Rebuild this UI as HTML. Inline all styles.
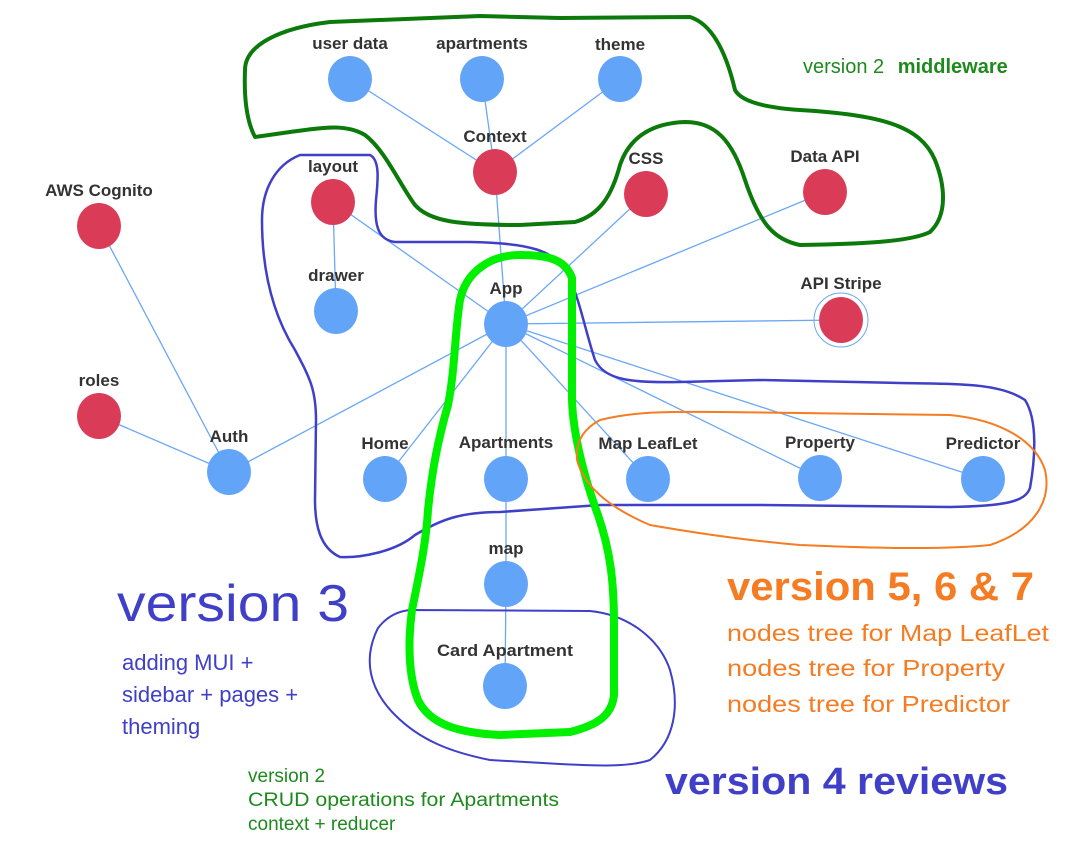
<!DOCTYPE html>
<html><head><meta charset="utf-8"><style>
html,body{margin:0;padding:0;background:#fff;}
svg{display:block;}
text{font-family:"Liberation Sans",sans-serif;}
.lbl{font-weight:bold;font-size:17px;fill:#333;text-anchor:middle;}
.e{stroke:#6aa8f5;stroke-width:1.3;}
</style></head><body>
<svg width="1067" height="868" viewBox="0 0 1067 868" xmlns="http://www.w3.org/2000/svg">
<g class="e">
<line x1="350" y1="79" x2="495" y2="172"/>
<line x1="482" y1="79" x2="495" y2="172"/>
<line x1="620" y1="79" x2="495" y2="172"/>
<line x1="495" y1="172" x2="506" y2="324"/>
<line x1="333" y1="202" x2="336" y2="311"/>
<line x1="333" y1="202" x2="506" y2="324"/>
<line x1="646" y1="194" x2="506" y2="324"/>
<line x1="825" y1="192" x2="506" y2="324"/>
<line x1="841" y1="320" x2="506" y2="324"/>
<line x1="99" y1="226" x2="229" y2="472"/>
<line x1="99" y1="416" x2="229" y2="472"/>
<line x1="229" y1="472" x2="506" y2="324"/>
<line x1="385" y1="479" x2="506" y2="324"/>
<line x1="506" y1="479" x2="506" y2="324"/>
<line x1="648" y1="479" x2="506" y2="324"/>
<line x1="820" y1="478" x2="506" y2="324"/>
<line x1="983" y1="479" x2="506" y2="324"/>
<line x1="506" y1="479" x2="506" y2="584"/>
<line x1="506" y1="584" x2="505" y2="686"/>
</g>
<circle cx="841" cy="320" r="27" fill="none" stroke="#6aa8f5" stroke-width="1"/>
<g fill="#62a4f7">
<ellipse cx="350" cy="79" rx="22" ry="23"/><ellipse cx="482" cy="79" rx="22" ry="23"/><ellipse cx="620" cy="79" rx="22" ry="23"/>
<ellipse cx="336" cy="311" rx="22" ry="23"/><ellipse cx="506" cy="324" rx="22" ry="23"/><ellipse cx="229" cy="472" rx="22" ry="23"/>
<ellipse cx="385" cy="479" rx="22" ry="23"/><ellipse cx="506" cy="479" rx="22" ry="23"/><ellipse cx="648" cy="479" rx="22" ry="23"/>
<ellipse cx="820" cy="478" rx="22" ry="23"/><ellipse cx="983" cy="479" rx="22" ry="23"/><ellipse cx="506" cy="584" rx="22" ry="23"/>
<ellipse cx="505" cy="686" rx="22" ry="23"/>
</g>
<g fill="#da3c58">
<ellipse cx="495" cy="172" rx="22" ry="23"/><ellipse cx="333" cy="202" rx="22" ry="23"/><ellipse cx="646" cy="194" rx="22" ry="23"/>
<ellipse cx="825" cy="192" rx="22" ry="23"/><ellipse cx="99" cy="226" rx="22" ry="23"/><ellipse cx="841" cy="320" rx="22" ry="23"/>
<ellipse cx="99" cy="416" rx="22" ry="23"/>
</g>
<g>
<text x="350" y="49" class="lbl">user data</text>
<text x="482" y="49" class="lbl">apartments</text>
<text x="620" y="50" class="lbl">theme</text>
<text x="495" y="142" class="lbl">Context</text>
<text x="333" y="172" class="lbl">layout</text>
<text x="646" y="164" class="lbl">CSS</text>
<text x="825" y="162" class="lbl">Data API</text>
<text x="99" y="196" class="lbl">AWS Cognito</text>
<text x="336" y="281" class="lbl">drawer</text>
<text x="506" y="294" class="lbl">App</text>
<text x="841" y="289" class="lbl">API Stripe</text>
<text x="99" y="386" class="lbl">roles</text>
<text x="229" y="442" class="lbl">Auth</text>
<text x="385" y="449" class="lbl">Home</text>
<text x="506" y="448" class="lbl">Apartments</text>
<text x="648" y="449" class="lbl">Map LeafLet</text>
<text x="820" y="448" class="lbl">Property</text>
<text x="983" y="449" class="lbl">Predictor</text>
<text x="506" y="554" class="lbl">map</text>
<text x="505" y="656" class="lbl" textLength="136" lengthAdjust="spacingAndGlyphs">Card Apartment</text>
</g>
<g fill="none" stroke-linejoin="round" stroke-linecap="round">
<path stroke="#0b7a0b" stroke-width="4" d="M245,70 C245,45 280,28 330,22 L480,16 L560,18 L690,17 C715,25 728,60 735,90 C742,103 770,108 800,110 C880,115 920,125 935,160 C945,185 948,215 930,232 C910,242 860,244 800,245 C775,240 760,225 745,180 C732,140 715,122 685,122 C655,123 630,135 620,165 C612,195 600,215 575,222 L520,225 C460,225 430,222 415,205 C400,185 385,150 365,135 C345,123 320,128 290,132 L255,137 C246,120 244,95 245,70 Z"/>
<path stroke="#3f3fc8" stroke-width="2.5" d="M300,155 L370,155 C380,160 378,180 376,200 C374,225 378,240 395,242 L470,242 C530,243 555,250 568,275 C580,300 585,330 595,360 C605,380 630,383 680,382 L760,380 L900,383 C960,384 1000,383 1025,400 C1038,420 1035,460 1030,488 C1025,502 1005,506 950,507 L760,505 L600,505 L500,512 C460,512 440,520 415,535 C395,552 360,558 340,557 C320,548 315,525 315,500 L316,420 C316,390 310,378 295,350 C270,310 262,265 262,220 C262,190 275,165 300,155 Z"/>
<path stroke="#3f3fc8" stroke-width="2" d="M410,610 L590,611 C630,615 660,640 670,670 C680,705 675,740 650,760 C630,767 600,766 560,764 L490,760 C450,752 420,740 395,715 C370,690 362,660 378,628 C388,615 400,611 410,610 Z"/>
<path stroke="#00f000" stroke-width="8" d="M520,255 C545,255 565,258 572,278 L572,400 C573,435 585,480 598,515 C610,550 614,580 614,625 L614,695 C612,715 598,725 570,732 L500,735 C460,733 430,725 418,700 C408,675 408,640 412,610 C418,580 426,545 428,510 C432,470 438,440 448,405 C455,370 455,330 460,300 C466,272 490,255 520,255 Z"/>
<path stroke="#f57c22" stroke-width="2" d="M600,420 C640,410 680,412 720,412 L950,415 C1000,420 1035,440 1045,470 C1052,500 1035,530 990,545 C940,550 870,548 800,545 C740,540 690,532 650,525 C615,510 585,490 577,460 C575,440 585,428 600,420 Z"/>
</g>
<text x="803" y="73" font-size="20" fill="#1e8a1e">version 2 <tspan font-weight="bold" dx="8">middleware</tspan></text>
<text x="117" y="621" font-size="52" fill="#3f3fc8" textLength="232" lengthAdjust="spacingAndGlyphs">version 3</text>
<g font-size="22" fill="#3f3fc8">
<text x="122" y="670">adding MUI +</text>
<text x="122" y="702">sidebar + pages +</text>
<text x="122" y="734">theming</text>
</g>
<text x="727" y="600" font-size="40" font-weight="bold" fill="#f57c22" textLength="307" lengthAdjust="spacingAndGlyphs">version 5, 6 &amp; 7</text>
<g font-size="23" fill="#f57c22">
<text x="727" y="641" textLength="322" lengthAdjust="spacingAndGlyphs">nodes tree for Map LeafLet</text>
<text x="727" y="676" textLength="278" lengthAdjust="spacingAndGlyphs">nodes tree for Property</text>
<text x="727" y="712" textLength="283" lengthAdjust="spacingAndGlyphs">nodes tree for Predictor</text>
</g>
<text x="665" y="794" font-size="38" font-weight="bold" fill="#3f3fc8" textLength="343" lengthAdjust="spacingAndGlyphs">version 4 reviews</text>
<g font-size="19" fill="#1e8a1e">
<text x="248" y="782">version 2</text>
<text x="248" y="806" font-size="19" textLength="311" lengthAdjust="spacingAndGlyphs">CRUD operations for Apartments</text>
<text x="248" y="830">context + reducer</text>
</g>
</svg>
</body></html>
